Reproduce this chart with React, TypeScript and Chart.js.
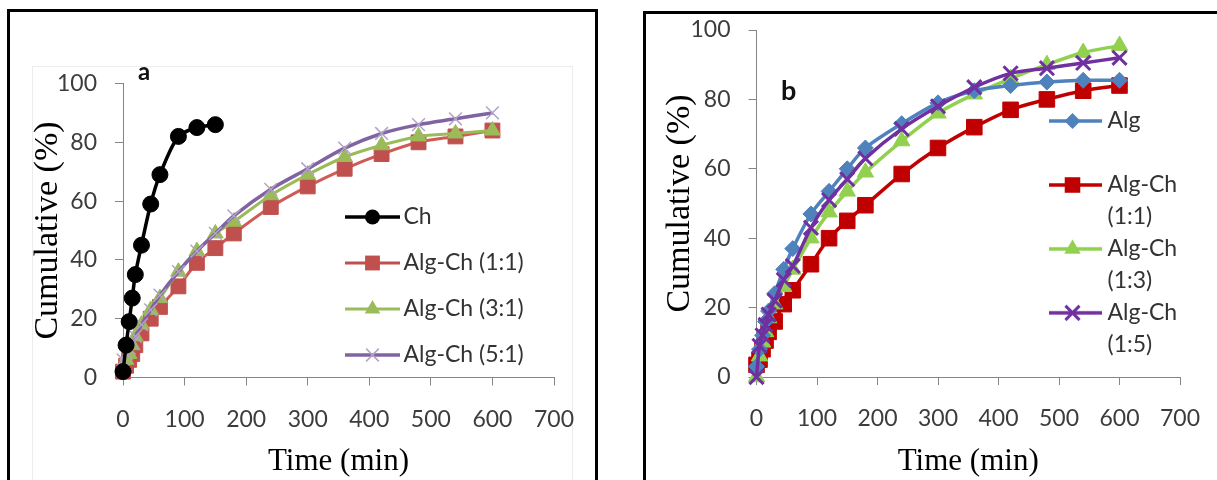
import React, { useEffect, useRef } from 'react';
import { Chart, registerables } from 'chart.js';

Chart.register(...registerables);

// ---------------- data ----------------
const TIME_MIN = [0, 5, 10, 15, 20, 30, 45, 60, 90, 120, 150, 180, 240, 300, 360, 420, 480, 540, 600];
const CH_TIME_MIN = [0, 5, 10, 15, 20, 30, 45, 60, 90, 120, 150];

// panel a
const A_CH = [2, 11, 19, 27, 35, 45, 59, 69, 82, 85, 86];
const A_ALGCH_1_1 = [2, 4, 6, 8, 11, 15, 20, 24, 31, 39, 44, 49, 58, 65, 71, 76, 80, 82, 84];
const A_ALGCH_3_1 = [4, 6, 8, 11, 14, 18, 23, 27, 36, 43, 49, 53, 62, 69, 75, 79, 82, 83, 84];
const A_ALGCH_5_1 = [6, 8, 10, 12, 14, 18, 23, 28, 36, 43, 49, 55, 64, 71, 78, 83, 86, 88, 90];

// panel b
const B_ALG = [3, 8, 12, 16, 19, 24, 31, 37, 47, 53.5, 60, 66, 73, 79, 82.5, 84, 85, 85.5, 85.5];
const B_ALGCH_1_1 = [3.5, 5, 8, 10.5, 13, 16, 21, 25, 32.5, 40, 45, 49.5, 58.5, 66, 72, 77, 80, 82.5, 84];
const B_ALGCH_1_3 = [0, 6, 10, 13, 17, 21, 26, 31, 40, 47.5, 53.5, 59, 68, 76, 81.5, 86, 90, 93.5, 95.5];
const B_ALGCH_1_5 = [0, 9, 12, 15, 18, 22, 28, 32, 43, 51, 57, 63, 71.5, 78, 83.5, 87.5, 89, 90.5, 92];

const X_TICKS = [0, 100, 200, 300, 400, 500, 600, 700];
const Y_TICKS = [0, 20, 40, 60, 80, 100];

const A_LABELS = ['Ch', 'Alg-Ch (1:1)', 'Alg-Ch (3:1)', 'Alg-Ch (5:1)'];
const B_LABELS = [['Alg', ''], ['Alg-Ch', '(1:1)'], ['Alg-Ch', '(1:3)'], ['Alg-Ch', '(1:5)']];

const X_TITLE = 'Time (min)';
const Y_TITLE = 'Cumulative (%)';

// ---------------- styles ----------------
const SANS = 'Lato, "Noto Sans", sans-serif';
const SERIF = '"Liberation Serif", "Times New Roman", serif';
const AXIS = '#868686';
const TICK = '#3c3c3c';
const LEGEND_TEXT = '#333333';

type Mk = 'circle' | 'rect' | 'triangle' | 'crossRot' | 'rectRot';

function legendIcon(width: number, lineColor: string, lineWidth: number, marker: Mk, markerColor: string, r: number, mBorder: number) {
  const h = 30;
  const c = document.createElement('canvas');
  c.width = width;
  c.height = h;
  const ctx = c.getContext('2d') as CanvasRenderingContext2D;
  const cy = h / 2;
  const cx = width / 2;
  ctx.strokeStyle = lineColor;
  ctx.lineWidth = lineWidth;
  ctx.lineCap = 'butt';
  ctx.beginPath();
  ctx.moveTo(0, cy);
  ctx.lineTo(width, cy);
  ctx.stroke();
  ctx.fillStyle = markerColor;
  ctx.strokeStyle = markerColor;
  ctx.lineWidth = mBorder;
  ctx.beginPath();
  if (marker === 'circle') {
    ctx.arc(cx, cy, r, 0, Math.PI * 2);
    ctx.fill();
  } else if (marker === 'rect') {
    const s = r * Math.SQRT1_2;
    ctx.rect(cx - s, cy - s, 2 * s, 2 * s);
    ctx.fill();
  } else if (marker === 'rectRot') {
    ctx.moveTo(cx, cy - r);
    ctx.lineTo(cx + r, cy);
    ctx.lineTo(cx, cy + r);
    ctx.lineTo(cx - r, cy);
    ctx.closePath();
    ctx.fill();
  } else if (marker === 'triangle') {
    ctx.moveTo(cx, cy - r);
    ctx.lineTo(cx + 0.866 * r, cy + 0.5 * r);
    ctx.lineTo(cx - 0.866 * r, cy + 0.5 * r);
    ctx.closePath();
    ctx.fill();
  } else {
    const d = r * Math.SQRT1_2;
    ctx.moveTo(cx - d, cy - d);
    ctx.lineTo(cx + d, cy + d);
    ctx.moveTo(cx + d, cy - d);
    ctx.lineTo(cx - d, cy + d);
    ctx.stroke();
  }
  return c;
}

const placeLegend = {
  id: 'placeLegend',
  afterLayout(chart: any, _args: any, opts: any) {
    const lg = chart.legend;
    if (!lg || !opts) return;
    lg.left = opts.x;
    lg.top = opts.y;
    lg.right = chart.width;
    lg.bottom = chart.height;
    lg.width = chart.width - opts.x;
    lg.height = chart.height - opts.y;
  },
};

function pts(xs: number[], ys: number[]) {
  return xs.map((x, i) => ({ x, y: ys[i] }));
}

function buildScales(yWidth: number, xHeight: number, yTitlePad: number) {
  const tickFont = { family: SANS, size: 23 };
  return {
    x: {
      type: 'linear',
      min: 0,
      max: 700,
      afterBuildTicks: (s: any) => {
        s.ticks = X_TICKS.map((v) => ({ value: v }));
      },
      afterFit: (s: any) => {
        s.height = xHeight;
      },
      grid: { drawOnChartArea: false, drawTicks: true, tickLength: 8, color: AXIS, lineWidth: 1 },
      border: { display: true, color: AXIS, width: 1 },
      ticks: { font: tickFont, color: TICK, padding: 20, maxRotation: 0, autoSkip: false },
      title: { display: true, text: X_TITLE, font: { family: SERIF, size: 31 }, color: '#000', padding: { top: 0, bottom: 0 } },
    },
    y: {
      type: 'linear',
      min: 0,
      max: 100,
      afterBuildTicks: (s: any) => {
        s.ticks = Y_TICKS.map((v) => ({ value: v }));
      },
      afterFit: (s: any) => {
        s.width = yWidth;
      },
      grid: { drawOnChartArea: false, drawTicks: true, tickLength: 8, color: AXIS, lineWidth: 1 },
      border: { display: true, color: AXIS, width: 1 },
      ticks: { font: tickFont, color: TICK, padding: 18, autoSkip: false },
      title: { display: true, text: Y_TITLE, font: { family: SERIF, size: 34 }, color: '#000', padding: { top: yTitlePad, bottom: 0 } },
    },
  };
}

function configA(): any {
  const icons = [
    legendIcon(55, '#000000', 3.5, 'circle', '#000000', 7.5, 1),
    legendIcon(55, '#C0504D', 3, 'rect', '#C0504D', 10.5, 1),
    legendIcon(55, '#9BBB59', 3, 'triangle', '#9BBB59', 9, 1),
    legendIcon(55, '#8064A2', 3.5, 'crossRot', '#B3A2C7', 9, 1.5),
  ];
  return {
    type: 'line',
    data: {
      datasets: [
        {
          label: A_LABELS[0], data: pts(CH_TIME_MIN, A_CH), borderColor: '#000000', backgroundColor: '#000000',
          borderWidth: 3.5, pointStyle: 'circle', pointRadius: 8, pointBackgroundColor: '#000000', pointBorderColor: '#000000',
          pointBorderWidth: 1, tension: 0.3, order: 0, clip: false,
        },
        {
          label: A_LABELS[1], data: pts(TIME_MIN, A_ALGCH_1_1), borderColor: '#D05A55', backgroundColor: '#C0504D',
          borderWidth: 3, pointStyle: 'rect', pointRadius: 10.5, pointBackgroundColor: '#C0504D', pointBorderColor: '#C0504D',
          pointBorderWidth: 1, tension: 0.3, order: 3, clip: false,
        },
        {
          label: A_LABELS[2], data: pts(TIME_MIN, A_ALGCH_3_1), borderColor: '#9BBB59', backgroundColor: '#9BBB59',
          borderWidth: 3, pointStyle: 'triangle', pointRadius: 9, pointBackgroundColor: '#9BBB59', pointBorderColor: '#9BBB59',
          pointBorderWidth: 1, tension: 0.3, order: 2, clip: false,
        },
        {
          label: A_LABELS[3], data: pts(TIME_MIN, A_ALGCH_5_1), borderColor: '#8064A2', backgroundColor: '#B3A2C7',
          borderWidth: 3.5, pointStyle: 'crossRot', pointRadius: 9, pointBorderColor: '#B3A2C7',
          pointBorderWidth: 1.5, tension: 0.35, order: 1, clip: false,
        },
      ],
    },
    options: {
      responsive: false,
      animation: false,
      events: [],
      layout: { padding: { left: 0, top: 63.5, right: 53, bottom: 0 } },
      scales: buildScales(103, 102.5, 7.6),
      plugins: {
        tooltip: { enabled: false },
        title: { display: false },
        placeLegend: { x: 310, y: 162.5 },
        legend: {
          display: true,
          position: 'chartArea',
          align: 'start',
          labels: {
            usePointStyle: true,
            pointStyleWidth: 39,
            padding: 23,
            font: { family: SANS, size: 23 },
            color: LEGEND_TEXT,
            generateLabels: () =>
              A_LABELS.map((t, i) => ({
                text: t, pointStyle: icons[i], fillStyle: 'transparent', strokeStyle: 'transparent',
                lineWidth: 0, hidden: false, datasetIndex: i, fontColor: LEGEND_TEXT,
              })),
          },
        },
      },
    },
    plugins: [placeLegend],
  };
}

function configB(): any {
  const icons = [
    legendIcon(59, '#4F81BD', 3.5, 'rectRot', '#4F81BD', 8, 1),
    legendIcon(59, '#C00000', 3.5, 'rect', '#C00000', 11, 1),
    legendIcon(59, '#92D050', 3.5, 'triangle', '#92D050', 9.5, 1),
    legendIcon(59, '#7030A0', 3.5, 'crossRot', '#7030A0', 10, 3),
  ];
  return {
    type: 'line',
    data: {
      datasets: [
        {
          label: 'Alg', data: pts(TIME_MIN, B_ALG), borderColor: '#4F81BD', backgroundColor: '#4F81BD',
          borderWidth: 3.5, pointStyle: 'rectRot', pointRadius: 8, pointBackgroundColor: '#4F81BD', pointBorderColor: '#4F81BD',
          pointBorderWidth: 1, tension: 0.3, order: 1, clip: false,
        },
        {
          label: 'Alg-Ch (1:1)', data: pts(TIME_MIN, B_ALGCH_1_1), borderColor: '#C00000', backgroundColor: '#C00000',
          borderWidth: 3.5, pointStyle: 'rect', pointRadius: 11, pointBackgroundColor: '#C00000', pointBorderColor: '#C00000',
          pointBorderWidth: 1, tension: 0.3, order: 3, clip: false,
        },
        {
          label: 'Alg-Ch (1:3)', data: pts(TIME_MIN, B_ALGCH_1_3), borderColor: '#92D050', backgroundColor: '#92D050',
          borderWidth: 3.5, pointStyle: 'triangle', pointRadius: 9.5, pointBackgroundColor: '#92D050', pointBorderColor: '#92D050',
          pointBorderWidth: 1, tension: 0.3, order: 2, clip: false,
        },
        {
          label: 'Alg-Ch (1:5)', data: pts(TIME_MIN, B_ALGCH_1_5), borderColor: '#7030A0', backgroundColor: '#7030A0',
          borderWidth: 3.5, pointStyle: 'crossRot', pointRadius: 10, pointBorderColor: '#7030A0',
          pointBorderWidth: 3, tension: 0.3, order: 0, clip: false,
        },
      ],
    },
    options: {
      responsive: false,
      animation: false,
      events: [],
      layout: { padding: { left: 0, top: 33, right: 50, bottom: 0 } },
      scales: buildScales(101.5, 103, 4.6),
      plugins: {
        tooltip: { enabled: false },
        title: { display: false },
        placeLegend: { x: 394, y: 112.5 },
        legend: {
          display: true,
          position: 'chartArea',
          align: 'start',
          labels: {
            usePointStyle: true,
            pointStyleWidth: 47,
            padding: 0,
            font: { family: SANS, size: 23, lineHeight: 1.39 },
            color: LEGEND_TEXT,
            generateLabels: () =>
              B_LABELS.map((t, i) => ({
                text: t, pointStyle: icons[i], fillStyle: 'transparent', strokeStyle: 'transparent',
                lineWidth: 0, hidden: false, datasetIndex: i, fontColor: LEGEND_TEXT,
              })),
          },
        },
      },
    },
    plugins: [placeLegend],
  };
}

function ChartCanvas(props: { make: () => any; left: number; top: number; width: number; height: number }) {
  const ref = useRef<HTMLCanvasElement | null>(null);
  useEffect(() => {
    if (!ref.current) return;
    const chart = new Chart(ref.current, props.make());
    return () => chart.destroy();
  }, []);
  return (
    <canvas
      ref={ref}
      width={props.width}
      height={props.height}
      style={{ position: 'absolute', left: props.left, top: props.top, width: props.width, height: props.height }}
    />
  );
}

export default function App() {
  return (
    <div
      style={{
        position: 'absolute', left: 0, top: 0, width: 1217, height: 480, overflow: 'hidden', background: '#ffffff',
      }}
    >
      {/* panel a frame */}
      <div style={{ position: 'absolute', left: 7, top: 9, width: 591, height: 520, border: '3px solid #000', boxSizing: 'border-box' }} />
      <div style={{ position: 'absolute', left: 32, top: 66, width: 541, height: 460, border: '1px solid #ececec', boxSizing: 'border-box' }} />
      {/* panel b frame */}
      <div style={{ position: 'absolute', left: 643, top: 11, width: 640, height: 520, border: '3px solid #000', boxSizing: 'border-box' }} />

      <ChartCanvas make={configA} left={20} top={20} width={587} height={460} />
      <ChartCanvas make={configB} left={655} top={-3} width={575} height={483} />

      <div style={{ position: 'absolute', left: 138, top: 59, font: `bold 24px ${SANS}`, lineHeight: '24px', color: '#111' }}>a</div>
      <div style={{ position: 'absolute', left: 781, top: 76, font: `bold 27px ${SANS}`, lineHeight: '27px', color: '#111' }}>b</div>
    </div>
  );
}
